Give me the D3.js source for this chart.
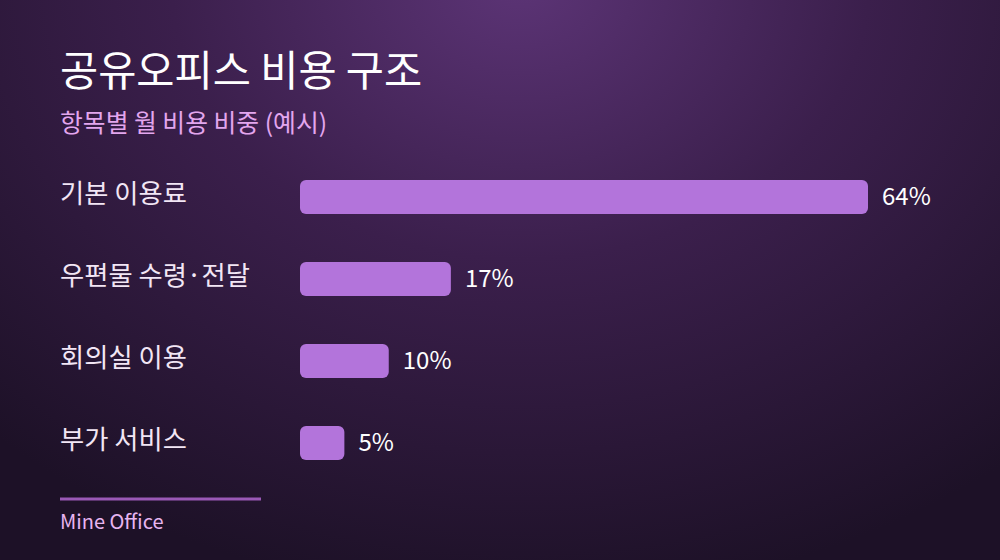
<!DOCTYPE html>
<html><head><meta charset="utf-8">
<script src="https://cdn.jsdelivr.net/npm/d3@7"></script>
<style>
html,body{margin:0;padding:0;background:#1e1228;}
svg{display:block;font-family:"Noto Sans CJK KR","Noto Sans",sans-serif;}
</style></head>
<body>
<svg id="chart" width="1000" height="560"></svg>
<script>
const categories = ["기본 이용료", "우편물 수령·전달", "회의실 이용", "부가 서비스"];
const values = [64, 17, 10, 5];
const valueLabels = ["64%", "17%", "10%", "5%"];
const title = "공유오피스 비용 구조";
const subtitle = "항목별 월 비용 비중 (예시)";
const footer = "Mine Office";

const svg = d3.select("#chart");
const W = 1000, H = 560;
const defs = svg.append("defs");
const rg = defs.append("radialGradient").attr("id","bg")
  .attr("gradientUnits","userSpaceOnUse").attr("cx",520).attr("cy",-20).attr("r",620)
  .attr("gradientTransform","translate(520,-20) scale(1.25,1) translate(-520,20)");
rg.append("stop").attr("offset","0").attr("stop-color","#5c3476");
rg.append("stop").attr("offset","0.45").attr("stop-color","#3b1f4c");
rg.append("stop").attr("offset","1").attr("stop-color","#1d1127");
svg.append("rect").attr("width",W).attr("height",H).attr("fill","url(#bg)");

svg.append("text").attr("x",60).attr("y",86).attr("fill","#ffffff")
  .attr("font-size",41.5).attr("font-weight",400).text(title);
svg.append("text").attr("x",60).attr("y",132).attr("fill","#e3a6ee")
  .attr("font-size",24.8).text(subtitle);

const x = d3.scaleLinear().domain([0, d3.max(values)]).range([300, 868]);
const y = d3.scaleBand().domain(categories).range([156, 484]).paddingInner(0.585).paddingOuter(0.293);

const g = svg.append("g");
g.selectAll("rect.bar").data(categories).join("rect").attr("class","bar")
  .attr("x", x(0)).attr("y", d => y(d))
  .attr("width", (d,i) => x(values[i]) - x(0)).attr("height", y.bandwidth())
  .attr("rx",6).attr("fill","#b374db");

g.selectAll("text.cat").data(categories).join("text").attr("class","cat")
  .attr("x",60).attr("y", d => y(d) + y.bandwidth()/2 + 6)
  .attr("fill","#f2e6f5").attr("font-size",26.3).text(d => d);

g.selectAll("text.val").data(categories).join("text").attr("class","val")
  .attr("x",(d,i) => x(values[i]) + 14).attr("y", d => y(d) + y.bandwidth()/2 + 8)
  .attr("fill","#ffffff").attr("font-size",24).text((d,i) => valueLabels[i]);

svg.append("line").attr("x1",60).attr("x2",261).attr("y1",499).attr("y2",499)
  .attr("stroke","#9a59b6").attr("stroke-width",3);
svg.append("text").attr("x",60).attr("y",529).attr("fill","#e7b5f0")
  .attr("font-size",20).text(footer);
</script>
</body></html>
